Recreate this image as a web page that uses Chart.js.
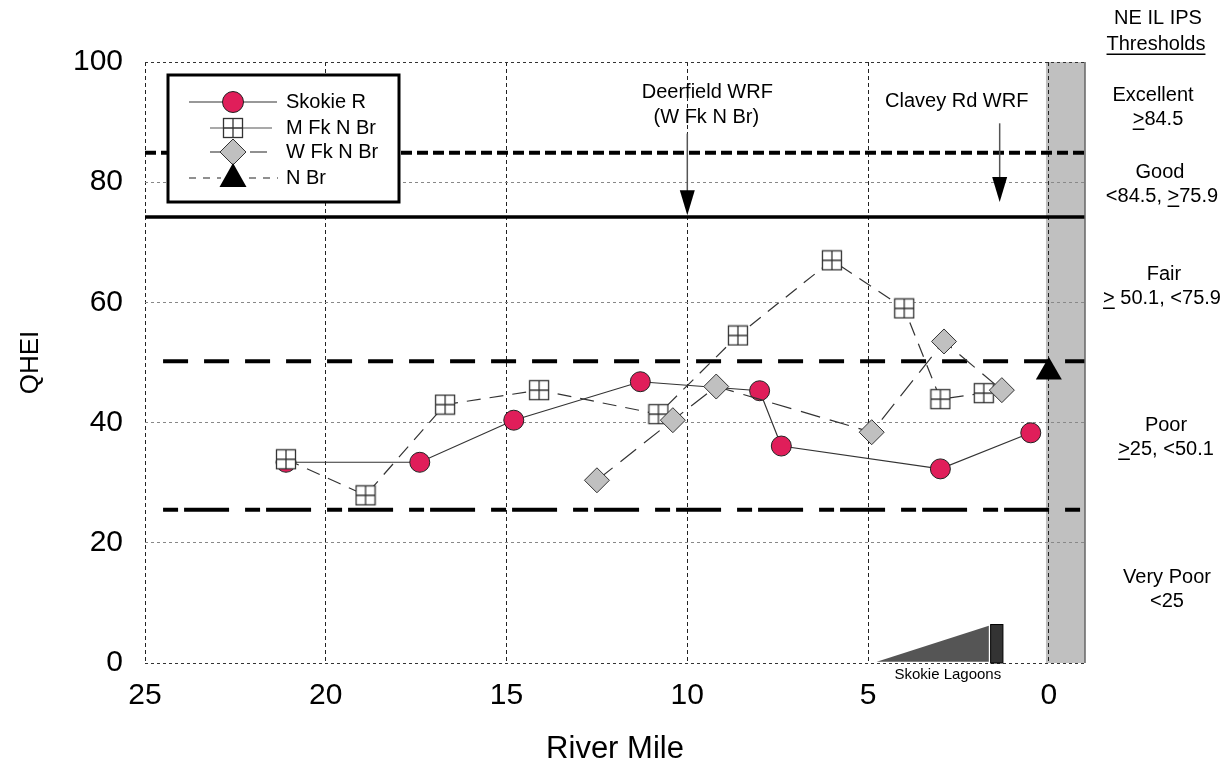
<!DOCTYPE html>
<html><head><meta charset="utf-8">
<script src="https://cdn.jsdelivr.net/npm/chart.js@4.4.1/dist/chart.umd.min.js"></script>
<style>html,body{margin:0;padding:0;background:#fff;overflow:hidden}</style>
</head><body>
<canvas id="c" width="1225" height="765" style="display:block;width:1225px;height:765px"></canvas>
<script>
// ---- data ----
const skokieMiles = [21.1, 17.4, 14.8, 11.3, 8.0, 7.4, 3.0, 0.5];
const skokieQHEI  = [33.4, 33.4, 40.4, 46.8, 45.3, 36.1, 32.3, 38.3];
const mfkMiles = [21.1, 18.9, 16.7, 14.1, 10.8, 8.6, 6.0, 4.0, 3.0, 1.8];
const mfkQHEI  = [33.9, 27.9, 43.0, 45.4, 41.4, 54.5, 67.0, 59.0, 43.9, 44.9];
const wfkMiles = [12.5, 10.4, 9.2, 4.9, 2.9, 1.3];
const wfkQHEI  = [30.4, 40.4, 46.0, 38.4, 53.5, 45.4];
const nbrMiles = [0.0];
const nbrQHEI  = [48.4];
const thresholdLevels = [84.9, 74.2, 50.2, 25.5];
const thresholdStart  = [25, 25, 24.5, 24.5];
const xTickValues = [25, 20, 15, 10, 5, 0];
const yTickValues = [0, 20, 40, 60, 80, 100];
const bandMiles = [0.08, -1];
const arrowMiles = [10.0, 1.36];
const arrowTop = [88.1, 89.8];
const arrowTip = [74.5, 76.7];
const lagoonWedge = [4.76, 1.66, 6.2];   // from mile, to mile, height
const lagoonDam = [1.61, 1.27, 6.4];
const ratingNames = ['Excellent', 'Good', 'Fair', 'Poor', 'Very Poor'];

const FONT = 'Arial, "Liberation Sans", Helvetica, sans-serif';
const pts = (xs, ys) => xs.map((x, i) => ({x: x, y: ys[i]}));

// square-with-cross marker
function makeGridSquare(size) {
  const c = document.createElement('canvas');
  c.width = size + 2; c.height = size + 2;
  const g = c.getContext('2d');
  const o = 1, s = size;
  g.fillStyle = '#fff'; g.fillRect(o, o, s, s);
  g.strokeStyle = '#333'; g.lineWidth = 1.3;
  g.strokeRect(o + 0.5, o + 0.5, s - 1, s - 1);
  g.beginPath();
  g.moveTo(o + s / 2, o); g.lineTo(o + s / 2, o + s);
  g.moveTo(o, o + s / 2); g.lineTo(o + s, o + s / 2);
  g.stroke();
  return c;
}
const gridSquare = makeGridSquare(20);

const thrStyles = [
  {w: 4, dash: [11, 5]},
  {w: 3.5, dash: []},
  {w: 4, dash: [25, 16]},
  {w: 4, dash: [15, 6, 45, 16]}
];

const thresholdSets = thresholdLevels.map((v, i) => ({
  label: 'thr' + i,
  data: [{x: thresholdStart[i], y: v}, {x: -1, y: v}],
  showLine: true, borderColor: '#000', borderWidth: thrStyles[i].w,
  borderDash: thrStyles[i].dash, pointRadius: 0, order: 10, clip: false
}));

function drawTextSegments(ctx, segs, cx, cy) {
  let total = 0;
  segs.forEach(s => total += ctx.measureText(s.t).width);
  let x = cx - total / 2;
  ctx.textAlign = 'left'; ctx.textBaseline = 'middle';
  segs.forEach(s => {
    const w = ctx.measureText(s.t).width;
    ctx.fillText(s.t, x, cy);
    if (s.u) {
      ctx.fillRect(x, cy + 9.5, w, 1.5);
    }
    x += w;
  });
}

const decor = {
  id: 'decor',
  beforeDraw(chart) {
    const {ctx, chartArea: a, scales: {x}} = chart;
    const x0 = x.getPixelForValue(bandMiles[0]), x1 = x.getPixelForValue(bandMiles[1]);
    ctx.save();
    ctx.fillStyle = '#c0c0c0';
    ctx.fillRect(x0, a.top, x1 - x0, a.bottom - a.top);
    ctx.restore();
  },
  afterDatasetsDraw(chart) {
    const {ctx, chartArea: a, scales: {x, y}} = chart;
    ctx.save();
    // right border
    ctx.strokeStyle = '#666'; ctx.lineWidth = 1.5;
    ctx.beginPath(); ctx.moveTo(a.right, a.top); ctx.lineTo(a.right, a.bottom); ctx.stroke();

    // Skokie Lagoons wedge and dam
    ctx.fillStyle = '#555';
    ctx.beginPath();
    ctx.moveTo(x.getPixelForValue(lagoonWedge[0]), y.getPixelForValue(0.2));
    ctx.lineTo(x.getPixelForValue(lagoonWedge[1]), y.getPixelForValue(lagoonWedge[2]));
    ctx.lineTo(x.getPixelForValue(lagoonWedge[1]), y.getPixelForValue(0.2));
    ctx.closePath(); ctx.fill();
    const dx0 = x.getPixelForValue(lagoonDam[0]), dx1 = x.getPixelForValue(lagoonDam[1]);
    const dy0 = y.getPixelForValue(lagoonDam[2]), dy1 = y.getPixelForValue(0);
    ctx.fillStyle = '#333'; ctx.fillRect(dx0, dy0, dx1 - dx0, dy1 - dy0);
    ctx.strokeStyle = '#000'; ctx.lineWidth = 1; ctx.strokeRect(dx0, dy0, dx1 - dx0, dy1 - dy0);
    ctx.fillStyle = '#000';
    ctx.font = '15px ' + FONT; ctx.textAlign = 'center'; ctx.textBaseline = 'middle';
    ctx.fillText('Skokie Lagoons', (x.getPixelForValue(lagoonWedge[0]) + dx1) / 2 + 8, a.bottom + 12);

    // arrows
    arrowMiles.forEach((m, i) => {
      const px = x.getPixelForValue(m);
      const yt = y.getPixelForValue(arrowTop[i]), yp = y.getPixelForValue(arrowTip[i]);
      ctx.strokeStyle = '#555'; ctx.lineWidth = 1.5;
      ctx.beginPath(); ctx.moveTo(px, yt); ctx.lineTo(px, yp - 20); ctx.stroke();
      ctx.fillStyle = '#000';
      ctx.beginPath(); ctx.moveTo(px - 7.5, yp - 25); ctx.lineTo(px + 7.5, yp - 25); ctx.lineTo(px, yp); ctx.closePath(); ctx.fill();
    });
    ctx.fillStyle = '#000';
    ctx.font = '20px ' + FONT; ctx.textAlign = 'center'; ctx.textBaseline = 'middle';
    const d = x.getPixelForValue(arrowMiles[0]);
    ctx.fillText('Deerfield WRF', d + 20, a.top + 30);
    ctx.fillText('(W Fk N Br)', d + 19, a.top + 55);
    const cv = x.getPixelForValue(arrowMiles[1]);
    ctx.fillText('Clavey Rd WRF', cv - 43, a.top + 39);

    // legend box
    const lx = a.left + 23, ly = a.top + 13, lw = 231, lh = 127;
    ctx.fillStyle = '#fff'; ctx.fillRect(lx, ly, lw, lh);
    ctx.strokeStyle = '#000'; ctx.lineWidth = 3; ctx.strokeRect(lx, ly, lw, lh);
    const rows = [
      {t: 'Skokie R', y: ly + 27},
      {t: 'M Fk N Br', y: ly + 53},
      {t: 'W Fk N Br', y: ly + 77},
      {t: 'N Br', y: ly + 103}
    ];
    const mx = lx + 65;
    ctx.lineWidth = 1.2; ctx.strokeStyle = '#333';
    ctx.setLineDash([]);
    ctx.beginPath(); ctx.moveTo(lx + 21, rows[0].y); ctx.lineTo(lx + 109, rows[0].y); ctx.stroke();
    ctx.beginPath(); ctx.arc(mx, rows[0].y, 10.5, 0, Math.PI * 2);
    ctx.fillStyle = '#e01e5a'; ctx.fill(); ctx.strokeStyle = '#222'; ctx.lineWidth = 1; ctx.stroke();
    ctx.strokeStyle = '#555'; ctx.lineWidth = 1.2;
    ctx.beginPath(); ctx.moveTo(lx + 42, rows[1].y); ctx.lineTo(lx + 104, rows[1].y); ctx.stroke();
    ctx.drawImage(gridSquare, mx - 11, rows[1].y - 11);
    ctx.strokeStyle = '#222';
    ctx.beginPath(); ctx.moveTo(lx + 42, rows[2].y); ctx.lineTo(mx - 13, rows[2].y);
    ctx.moveTo(mx + 17, rows[2].y); ctx.lineTo(lx + 99, rows[2].y); ctx.stroke();
    ctx.beginPath(); ctx.moveTo(mx, rows[2].y - 13); ctx.lineTo(mx + 13, rows[2].y); ctx.lineTo(mx, rows[2].y + 13); ctx.lineTo(mx - 13, rows[2].y); ctx.closePath();
    ctx.fillStyle = '#c0c0c0'; ctx.fill(); ctx.lineWidth = 1; ctx.strokeStyle = '#333'; ctx.stroke();
    ctx.setLineDash([7, 7]); ctx.strokeStyle = '#222'; ctx.lineWidth = 1.2;
    ctx.beginPath(); ctx.moveTo(lx + 21, rows[3].y); ctx.lineTo(mx - 12, rows[3].y);
    ctx.moveTo(mx + 16, rows[3].y); ctx.lineTo(lx + 110, rows[3].y); ctx.stroke();
    ctx.setLineDash([]);
    ctx.fillStyle = '#000';
    ctx.beginPath(); ctx.moveTo(mx, rows[3].y - 15); ctx.lineTo(mx + 13.5, rows[3].y + 9); ctx.lineTo(mx - 13.5, rows[3].y + 9); ctx.closePath(); ctx.fill();
    ctx.font = '20px ' + FONT; ctx.textAlign = 'left'; ctx.textBaseline = 'middle';
    rows.forEach(r => ctx.fillText(r.t, lx + 118, r.y));

    // right-side threshold text
    ctx.font = '20px ' + FONT;
    const cx = 1160;
    drawTextSegments(ctx, [{t: 'NE IL IPS'}], cx - 2, 18);
    drawTextSegments(ctx, [{t: 'Thresholds', u: true}], cx - 4, 44);
    drawTextSegments(ctx, [{t: ratingNames[0]}], cx - 7, 95);
    drawTextSegments(ctx, [{t: '>', u: true}, {t: '84.5'}], cx - 2, 119);
    drawTextSegments(ctx, [{t: ratingNames[1]}], cx, 172);
    drawTextSegments(ctx, [{t: '<84.5, '}, {t: '>', u: true}, {t: '75.9'}], cx + 2, 196);
    drawTextSegments(ctx, [{t: ratingNames[2]}], cx + 4, 274);
    drawTextSegments(ctx, [{t: '>', u: true}, {t: ' 50.1, <75.9'}], cx + 2, 298);
    drawTextSegments(ctx, [{t: ratingNames[3]}], cx + 6, 425);
    drawTextSegments(ctx, [{t: '>', u: true}, {t: '25, <50.1'}], cx + 6, 449);
    drawTextSegments(ctx, [{t: ratingNames[4]}], cx + 7, 577);
    drawTextSegments(ctx, [{t: '<25'}], cx + 7, 601);
    ctx.restore();
  }
};

new Chart(document.getElementById('c'), {
  type: 'scatter',
  data: {
    datasets: [
      {label: 'N Br', data: pts(nbrMiles, nbrQHEI), pointStyle: 'triangle', pointRadius: 15,
       backgroundColor: '#000', borderColor: '#000', pointBorderWidth: 0, order: 0},
      {label: 'W Fk N Br', data: pts(wfkMiles, wfkQHEI), showLine: true, pointStyle: 'rectRot', pointRadius: 12.5,
       pointBackgroundColor: '#c0c0c0', pointBorderColor: '#333', pointBorderWidth: 1,
       borderColor: '#333', borderWidth: 1.2, borderDash: [20, 10], order: 1},
      {label: 'M Fk N Br', data: pts(mfkMiles, mfkQHEI), showLine: true, pointStyle: gridSquare, pointRadius: 10,
       borderColor: '#333', borderWidth: 1.2, borderDash: [14, 9], order: 2},
      {label: 'Skokie R', data: pts(skokieMiles, skokieQHEI), showLine: true, pointStyle: 'circle', pointRadius: 10,
       pointBackgroundColor: '#e01e5a', pointBorderColor: '#222', pointBorderWidth: 1,
       borderColor: '#333', borderWidth: 1.2, order: 3},
      ...thresholdSets
    ]
  },
  options: {
    responsive: false, animation: false, devicePixelRatio: 1, events: [],
    layout: {padding: {left: 0, right: 140, top: 62, bottom: 0}},
    plugins: {legend: {display: false}, tooltip: {enabled: false}},
    scales: {
      x: {
        type: 'linear', reverse: true, min: -1, max: 25,
        afterBuildTicks: s => { s.ticks = xTickValues.map(v => ({value: v})); },
        afterFit: s => { s.height = 102; },
        grid: {color: '#222', lineWidth: 1, drawTicks: false},
        border: {display: false, dash: [4, 3]},
        ticks: {font: {family: FONT, size: 30}, color: '#000', padding: 15, maxRotation: 0, autoSkip: false},
        title: {display: true, text: 'River Mile', font: {family: FONT, size: 31}, color: '#000', padding: {top: 0, bottom: -3}}
      },
      y: {
        min: 0, max: 100,
        afterBuildTicks: s => { s.ticks = yTickValues.map(v => ({value: v})); },
        afterFit: s => { s.width = 145; },
        grid: {color: c => (c.tick && (c.tick.value === 0 || c.tick.value === 100)) ? '#333' : '#888', lineWidth: 1, drawTicks: false},
        border: {display: false, dash: [3, 3]},
        ticks: {font: {family: FONT, size: 30}, color: '#000', padding: 22},
        title: {display: true, text: 'QHEI', font: {family: FONT, size: 26}, color: '#000', padding: {top: 15}}
      }
    }
  },
  plugins: [decor]
});
</script>
</body></html>
